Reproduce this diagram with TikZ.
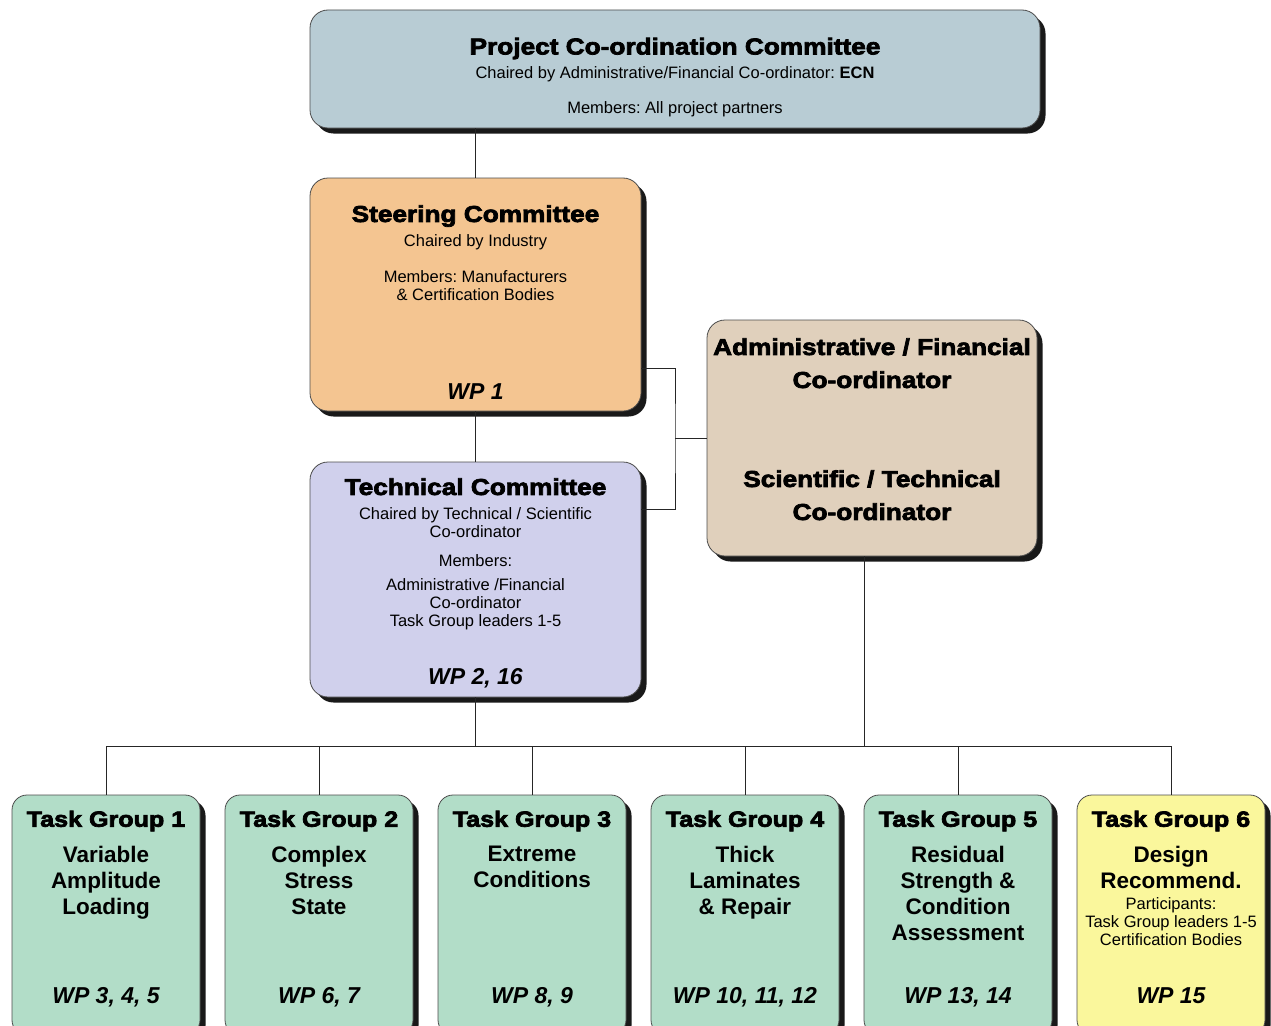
\documentclass[tikz,border=0pt]{standalone}
\usepackage{fontspec}
\setmainfont{Liberation Sans}
\newfontfamily\heavyfont{Liberation Sans Bold}[FakeBold=3.2,FakeStretch=1.14]
\frenchspacing
\usetikzlibrary{positioning,shadows}
\definecolor{pccblue}{HTML}{B8CCD4}
\definecolor{steerorange}{HTML}{F4C591}
\definecolor{techlilac}{HTML}{D0D0EC}
\definecolor{adminbeige}{HTML}{E0D0BC}
\definecolor{tgmint}{HTML}{B2DDC8}
\definecolor{tgyellow}{HTML}{FAF79C}
\tikzset{
  box/.style={draw=black!70, line width=0.8pt, rounded corners=18pt, inner sep=0pt,
    drop shadow={shadow xshift=5.5pt, shadow yshift=-5.5pt, opacity=1, fill=black!90}},
  line/.style={draw=black!85, line width=0.8pt},
  ttl/.style={font=\heavyfont\fontsize{23}{33}\selectfont, align=center, inner sep=0pt},
  txt/.style={font=\fontsize{16.5}{18}\selectfont, align=center, inner sep=0pt},
  tgt/.style={font=\bfseries\fontsize{22.5}{26}\selectfont, align=center, inner sep=0pt},
  wp/.style={font=\bfseries\itshape\fontsize{23}{26}\selectfont, inner sep=0pt, anchor=base}
}
\begin{document}
\begin{tikzpicture}[x=1pt, y=-1pt]
\useasboundingbox (0,0) rectangle (1271,1025);
\clip (0,0) rectangle (1271,1025);

\node[box, fill=pccblue, minimum width=730pt, minimum height=118pt] (pcc) at (675,69) {};
\node[ttl, below=28pt of pcc.north] (pcctitle) {Project Co-ordination Committee};
\node[txt, below=57pt of pcc.north] (pcctext) {Chaired by Administrative/Financial Co-ordinator: {\bfseries ECN}\\[17pt]Members: All project partners};

\node[box, fill=steerorange, minimum width=331pt, minimum height=233pt] (steer) at (475.5,294.5) {};
\node[ttl, below=27.5pt of steer.north] (steertitle) {Steering Committee};
\node[txt, below=56.5pt of steer.north] (steertext) {Chaired by Industry\\[18pt]Members: Manufacturers\\\& Certification Bodies};
\node[wp] (steerwp) at ([yshift=12pt]steer.south) {WP 1};

\node[box, fill=techlilac, minimum width=331pt, minimum height=235pt] (tech) at (475.5,579.5) {};
\node[ttl, below=16.5pt of tech.north] (techtitle) {Technical Committee};
\node[txt, below=45.5pt of tech.north] (techtext) {Chaired by Technical / Scientific\\Co-ordinator\\[11pt]Members:\\[6pt]Administrative /Financial\\Co-ordinator\\Task Group leaders 1-5};
\node[wp] (techwp) at ([yshift=13pt]tech.south) {WP 2, 16};

\node[box, fill=adminbeige, minimum width=330pt, minimum height=236pt] (admin) at (872,438) {};
\node[ttl, below=18.5pt of admin.north] (admintitle) {Administrative / Financial\\Co-ordinator};
\node[ttl, below=150.5pt of admin.north] (scititle) {Scientific / Technical\\Co-ordinator};

\foreach \i/\x/\col/\body/\wps in {1/106/tgmint/{Variable\\Amplitude\\Loading}/{3, 4, 5},
    2/319/tgmint/{Complex\\Stress\\State}/{6, 7},
    3/532/tgmint/{Extreme\\Conditions}/{8, 9},
    4/745/tgmint/{Thick\\Laminates\\\& Repair}/{10, 11, 12},
    5/958/tgmint/{Residual\\Strength \&\\Condition\\Assessment}/{13, 14},
    6/1171/tgyellow/{Design\\Recommend.}/{15}}{
  \node[box, rounded corners=15pt, fill=\col, minimum width=188pt, minimum height=240pt] (tg\i) at (\x,915) {};
  \node[ttl, font=\heavyfont\fontsize{22}{26}\selectfont, below=16pt of tg\i.north] (tgtitle\i) {Task Group \i};
  \node[tgt, below=51pt of tg\i.north] (tgbody\i) {\body};
  \node[wp] (tgwp\i) at ([yshift=-209pt]tg\i.north) {WP \wps};
}
\node[txt, font=\fontsize{16.5}{18}\selectfont, below=103pt of tg6.north] (tgpart6) {Participants:\\Task Group leaders 1-5\\Certification Bodies};

\coordinate (bus) at (tech.south |- 0,746);
\coordinate (bracket) at (675,438);
\draw[line] (pcc.south -| steer.north) -- (steer.north);
\draw[line] (steer.south) -- (tech.north);
\draw[line] ([yshift=-73.5pt]steer.east) -| (bracket) |- ([yshift=70.5pt]tech.east);
\draw[line] (bracket) -- (admin.west);
\draw[line] (tech.south) -- (bus);
\draw[line] ([xshift=-8pt]admin.south) -- ([xshift=-8pt]admin.south |- bus);
\draw[line] (tg1.north |- bus) -- (tg6.north |- bus);
\foreach \i in {1,...,6}
  \draw[line] (tg\i.north) -- (tg\i.north |- bus);
\end{tikzpicture}
\end{document}
